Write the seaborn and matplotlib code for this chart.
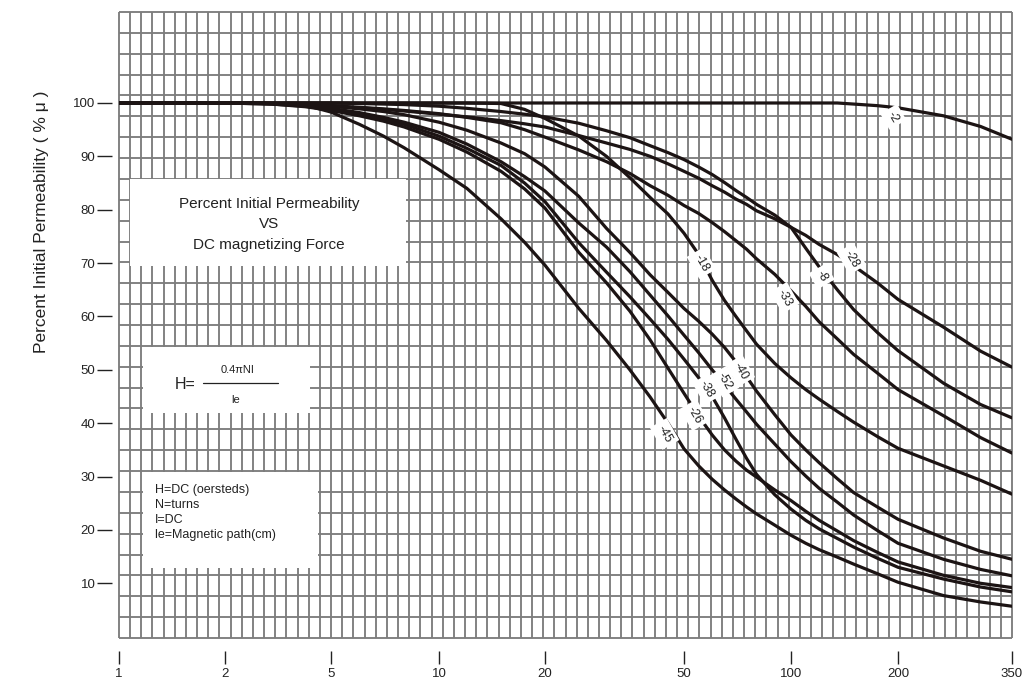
import numpy as np
import pandas as pd
import matplotlib
matplotlib.use('Agg')
import matplotlib.pyplot as plt
import seaborn as sns
from matplotlib.patches import Rectangle

W, HT = 1031, 678

# ------------- data -------------
h_oe = [1, 1.5, 2, 3, 4, 5, 6, 7, 8, 10, 12, 15, 17.5, 20, 25, 30, 35, 40, 45, 50,
        55, 60, 65, 70, 75, 80, 90, 100, 110, 120, 135, 150, 175, 200, 250, 300, 350]

mu_m2  = [100] * 31 + [99.8, 99.5, 99.1, 97.6, 95.6, 93.2]
mu_m8  = [100, 100, 100, 100, 100, 100, 99.9, 99.8, 99.7, 99.4, 99.0, 98.4, 97.9, 97.4, 96.2, 94.8,
          93.5, 92.0, 90.7, 89.4, 88.0, 86.6, 85.1, 83.6, 82.3, 81.0, 79.0, 76.7, 72.8, 69.3,
          65.0, 61.3, 57.0, 53.6, 47.5, 43.5, 41.0]
mu_m28 = [100, 100, 100, 99.9, 99.7, 99.4, 99.1, 98.8, 98.5, 97.9, 97.4, 96.7, 96.1, 95.5, 93.9, 92.5,
          91.3, 90.0, 88.6, 87.2, 85.9, 84.5, 83.3, 82.0, 81.0, 79.8, 78.3, 76.7, 75.2, 73.5,
          71.6, 69.5, 66.3, 63.2, 58.0, 53.5, 50.5]
mu_m33 = [100, 100, 100, 99.9, 99.7, 99.5, 99.2, 98.9, 98.6, 98.0, 97.3, 96.3, 95.0, 93.6, 91.2, 89.0,
          86.8, 84.5, 82.7, 80.8, 79.3, 77.6, 75.9, 74.2, 72.6, 70.8, 67.9, 64.8, 61.9, 59.0,
          55.8, 52.9, 49.4, 46.3, 41.4, 37.3, 34.4]
mu_m18 = [100] * 11 + [99.9, 98.8, 97.1, 93.8, 90.0, 86.0, 82.3, 79.2, 75.6, 71.6, 66.8, 63.0,
                       60.0, 57.3, 54.8, 51.2, 48.5, 46.3, 44.5, 42.2, 40.2, 37.5, 35.3, 32.0,
                       29.3, 26.7]
mu_m40 = [100, 100, 100, 99.9, 99.7, 99.4, 98.9, 98.4, 97.8, 96.4, 94.9, 92.5, 90.5, 88.0, 82.5, 76.5,
          72.0, 67.8, 64.5, 61.5, 59.1, 56.7, 54.2, 51.5, 48.7, 46.0, 41.6, 37.8, 35.0, 32.6,
          29.6, 27.0, 24.3, 22.0, 18.5, 16.0, 14.5]
mu_m52 = [100, 100, 100, 99.9, 99.6, 99.0, 98.2, 97.3, 96.4, 94.5, 92.3, 89.0, 86.2, 83.5, 77.5, 73.0,
          68.4, 64.0, 60.1, 56.5, 53.2, 50.0, 47.2, 44.5, 42.1, 39.8, 36.1, 32.8, 30.1, 27.8,
          25.2, 22.8, 19.9, 17.5, 14.5, 12.6, 11.4]
mu_m38 = [100, 100, 100, 99.8, 99.4, 98.8, 97.9, 97.0, 96.0, 93.8, 91.5, 88.3, 85.0, 81.5, 73.8, 68.3,
          63.7, 59.5, 55.7, 52.0, 48.5, 45.0, 41.0, 37.0, 33.4, 30.4, 26.6, 23.9, 21.8, 20.2,
          18.4, 16.8, 14.7, 13.0, 10.8, 9.3, 8.4]
mu_m26 = [100, 100, 100, 99.8, 99.3, 98.6, 97.6, 96.6, 95.5, 93.2, 90.8, 87.2, 83.9, 80.3, 72.0, 66.3,
          61.0, 55.6, 50.3, 45.6, 41.3, 37.8, 35.0, 32.9, 31.2, 29.9, 27.5, 25.5, 23.5, 21.8,
          19.8, 18.0, 15.8, 14.0, 11.5, 10.0, 9.2]
mu_m45 = [100, 100, 100, 99.9, 99.6, 98.3, 96.0, 93.8, 91.6, 87.5, 84.0, 78.3, 73.9, 69.6, 61.5, 55.5,
          50.0, 44.9, 40.0, 35.2, 32.0, 29.5, 27.5, 25.8, 24.3, 23.0, 20.9, 19.0, 17.5, 16.3,
          14.9, 13.6, 11.8, 10.2, 7.7, 6.5, 5.7]

grades = ['-2', '-8', '-28', '-33', '-18', '-40', '-52', '-38', '-26', '-45']
curves = [mu_m2, mu_m8, mu_m28, mu_m33, mu_m18, mu_m40, mu_m52, mu_m38, mu_m26, mu_m45]

# where the grade numbers sit on their curves (H, %mu)
label_h  = [194, 122, 148, 96, 56, 72, 65, 58, 53.5, 44]
label_mu = [97.4, 67.5, 70.8, 63.5, 70.0, 49.8, 47.8, 46.4, 41.5, 38.0]

xtick_vals = [1, 2, 5, 10, 20, 50, 100, 200, 350]
# the printed axis is hand drawn: pixel offset of every labelled tick
xtick_px = [0, 106, 212, 320, 426, 565, 672, 779, 893]
ytick_vals = [10, 20, 30, 40, 50, 60, 70, 80, 90, 100]

# ------------- axis scale matching the printed sheet -------------
LOG_T = np.log10(np.array(xtick_vals, float))
POS = np.array(xtick_px, float)
S0 = (POS[1] - POS[0]) / (LOG_T[1] - LOG_T[0])
S1 = (POS[-1] - POS[-2]) / (LOG_T[-1] - LOG_T[-2])


def fwd(x):
    lx = np.log10(np.clip(np.asarray(x, float), 1e-9, None))
    out = np.interp(lx, LOG_T, POS)
    out = np.where(lx < LOG_T[0], POS[0] + (lx - LOG_T[0]) * S0, out)
    out = np.where(lx > LOG_T[-1], POS[-1] + (lx - LOG_T[-1]) * S1, out)
    return out


def inv(p):
    p = np.asarray(p, float)
    lx = np.interp(p, POS, LOG_T)
    lx = np.where(p < POS[0], LOG_T[0] + (p - POS[0]) / S0, lx)
    lx = np.where(p > POS[-1], LOG_T[-1] + (p - POS[-1]) / S1, lx)
    return 10 ** lx


# ------------- theme -------------
sns.set_style('white')
plt.rcParams['font.family'] = ['Liberation Sans', 'DejaVu Sans']

df = pd.concat([pd.DataFrame({'H': h_oe, 'mu': c, 'grade': g})
                for g, c in zip(grades, curves)], ignore_index=True)

fig = plt.figure(figsize=(W / 100, HT / 100), dpi=100)
ax = fig.add_axes([119 / W, (HT - 638) / HT, (1012 - 119) / W, (638 - 12) / HT])
ax.set_xscale('function', functions=(fwd, inv))

GRID = '#7d7d7d'
ax.vlines(np.linspace(0, 1, 81), 0, 1, transform=ax.transAxes,
          colors=GRID, lw=1.35, zorder=0, clip_on=False)
ax.hlines(np.linspace(0, 1, 31), 0, 1, transform=ax.transAxes,
          colors=GRID, lw=1.35, zorder=0, clip_on=False)

sns.lineplot(data=df, x='H', y='mu', hue='grade', palette=['#1c1414'] * len(grades),
             estimator=None, sort=False, legend=False, linewidth=2.3, ax=ax, zorder=3)
for ln in ax.lines:
    ln.set_solid_joinstyle('round')

ax.set_xlim(1, 350)
ax.set_ylim(-0.25, 117.05)
ax.set_xticks(xtick_vals)
ax.set_xticklabels([str(v) for v in xtick_vals])
ax.xaxis.set_minor_locator(matplotlib.ticker.NullLocator())
ax.set_yticks(ytick_vals)
ax.set_xlabel('')
ax.set_ylabel('')

for s in ['top', 'right']:
    ax.spines[s].set_visible(False)
ax.spines['left'].set_position(('outward', 5))
ax.spines['bottom'].set_position(('outward', 9))
ax.spines['left'].set_color('none')
ax.spines['bottom'].set_color('none')
ax.tick_params(axis='y', left=True, length=11, width=1.0, color='#222222', pad=1,
               labelsize=9.5, labelcolor='#222222')
ax.tick_params(axis='x', bottom=True, length=9.5, width=1.0, color='#222222', pad=3,
               labelsize=9.5, labelcolor='#222222')

# grade labels on the curves
for g, lh, lm in zip(grades, label_h, label_mu):
    ax.text(lh, lm, g, rotation=-60, ha='center', va='center', fontsize=9,
            color='#222222', zorder=5,
            bbox=dict(boxstyle='square,pad=0.3', fc='white', ec='none'))


# ------------- white note boxes -------------
def box(x0, y0, x1, y1):
    fig.add_artist(Rectangle((x0 / W, 1 - y1 / HT), (x1 - x0) / W, (y1 - y0) / HT,
                             transform=fig.transFigure, fc='white', ec='none', zorder=2))


def ftext(x, y, s, **kw):
    fig.text(x / W, 1 - y / HT, s, color='#222222', zorder=6, **kw)


box(130, 179, 406, 266)
ftext(269, 204, 'Percent Initial Permeability', ha='center', va='center', fontsize=11)
ftext(269, 224, 'VS', ha='center', va='center', fontsize=11)
ftext(269, 245, 'DC magnetizing Force', ha='center', va='center', fontsize=11)

box(143, 347, 310, 413)
ftext(185, 385, 'H=', ha='center', va='center', fontsize=11.5)
ftext(238, 370, '0.4\u03c0NI', ha='center', va='center', fontsize=8)
ftext(236, 400, 'le', ha='center', va='center', fontsize=8)
fig.add_artist(plt.Line2D([203 / W, 278 / W], [1 - 383 / HT, 1 - 383 / HT],
                          color='#222222', lw=0.9, zorder=6))

box(143, 472, 318, 568)
for i, line in enumerate(['H=DC (oersteds)', 'N=turns', 'I=DC', 'le=Magnetic path(cm)']):
    ftext(155, 490 + 15 * i, line, ha='left', va='center', fontsize=9)

ftext(42, 222, 'Percent Initial Permeability ( % \u03bc )', rotation=90,
      ha='center', va='center', fontsize=12.5)

fig.savefig('out.png', dpi=100)
